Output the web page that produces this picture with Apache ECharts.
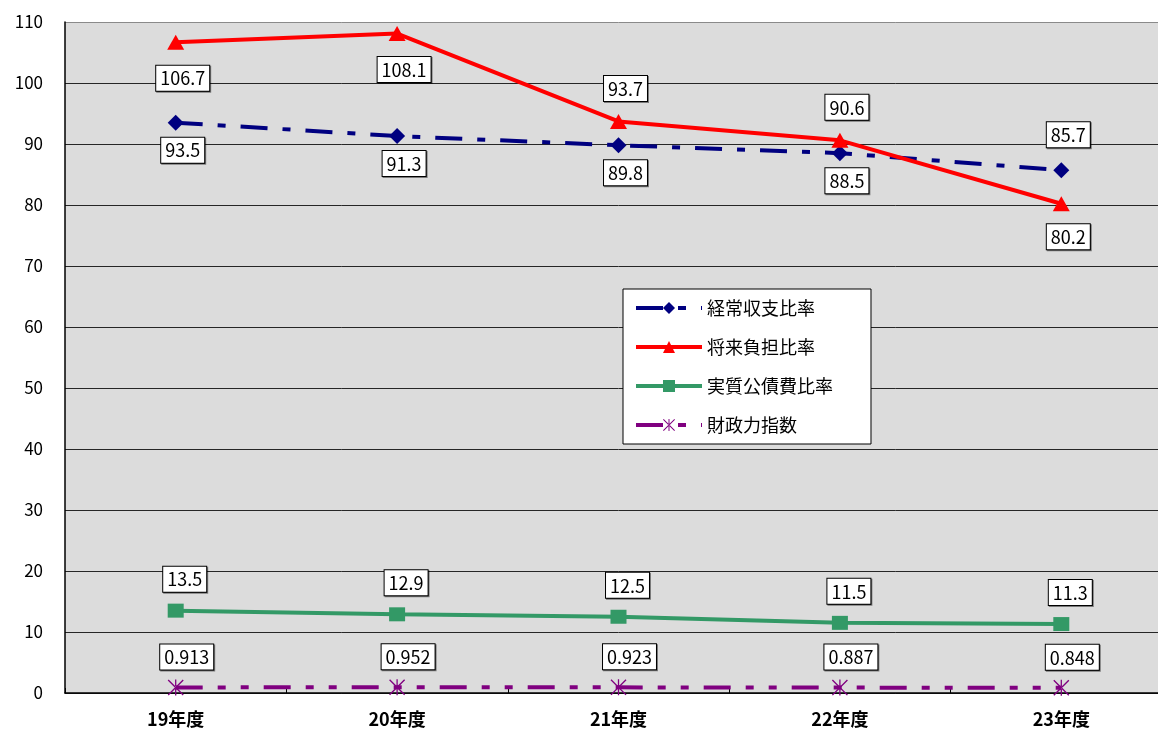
<!DOCTYPE html>
<html lang="ja">
<head>
  <meta charset="UTF-8">
  <title>財政指標の推移</title>
  <style>
    body {
      margin: 0;
      background-color: #fff;
      overflow: hidden;
    }
    /* 右端はウィンドウ外まで続く */
    #chart {
      width: 1172px;
      height: 729px;
    }
  </style>
  <script src="https://cdn.jsdelivr.net/npm/echarts@6/dist/echarts.min.js"></script>
</head>
<body>
  <div id="chart"></div>
  <script>
    // データ
    var years = ['19年度', '20年度', '21年度', '22年度', '23年度'];
    var keijo = [93.5, 91.3, 89.8, 88.5, 85.7];       // 経常収支比率
    var shorai = [106.7, 108.1, 93.7, 90.6, 80.2];    // 将来負担比率
    var kosai = [13.5, 12.9, 12.5, 11.5, 11.3];       // 実質公債費比率
    var zaisei = [0.913, 0.952, 0.923, 0.887, 0.848]; // 財政力指数
    var yTicks = [0, 10, 20, 30, 40, 50, 60, 70, 80, 90, 100, 110];

    var FONT = '"Noto Sans CJK JP", "Noto Sans", sans-serif';

    // 米印マーカー（X＋縦線）
    var asterisk = 'path://M9.2,0L10.8,0L10.8,20L9.2,20Z' +
      'M1.2,0L0,1.2L18.8,20L20,18.8Z' +
      'M18.8,0L20,1.2L1.2,20L0,18.8Z';

    function boxLabel(extra) {
      var base = {
        show: true,
        color: '#000',
        fontFamily: FONT,
        fontSize: 18,
        backgroundColor: '#fff',
        borderColor: '#000',
        borderWidth: 1,
        padding: [4, 4, 3, 4],
        shadowColor: 'rgba(0,0,0,0.45)',
        shadowOffsetX: 1,
        shadowOffsetY: 1,
        shadowBlur: 0
      };
      for (var k in extra) base[k] = extra[k];
      return base;
    }

    // ラベル位置（データ点ごと）
    function withLabels(values, places, offsetX) {
      return values.map(function (v, i) {
        var p = places[i];
        return { value: v, label: boxLabel({ position: p[0], distance: p[1], offset: [offsetX, 0] }) };
      });
    }

    var chart = echarts.init(document.getElementById('chart'));
    var gridColors = yTicks.map(function (t, i) { return i === yTicks.length - 1 ? '#8a8a8a' : '#262626'; });

    chart.setOption({
      animation: false,
      backgroundColor: '#fff',
      grid: {
        left: 65,
        top: 22,
        right: 0,
        height: 671,
        show: true,
        backgroundColor: '#dcdcdc',
        borderWidth: 0
      },
      legend: {
        orient: 'vertical',
        left: 623,
        top: 289,
        padding: [10, 38, 10, 11],
        itemWidth: 66,
        itemHeight: 15,
        itemGap: 21,
        backgroundColor: '#fff',
        borderColor: '#000',
        borderWidth: 1,
        lineStyle: { width: 4 },
        textStyle: {
          color: '#000',
          fontFamily: FONT,
          fontSize: 18,
          lineHeight: 18
        },
        data: ['経常収支比率', '将来負担比率', '実質公債費比率', '財政力指数']
      },
      xAxis: {
        type: 'category',
        data: years,
        boundaryGap: true,
        axisLine: { lineStyle: { color: '#000', width: 1.5 } },
        axisTick: { show: true, inside: true, length: 5, interval: 0, lineStyle: { color: '#000' } },
        axisLabel: {
          color: '#000',
          fontFamily: FONT,
          fontSize: 18,
          fontWeight: 'bold',
          margin: 17
        },
        splitLine: { show: false }
      },
      yAxis: {
        type: 'value',
        min: yTicks[0],
        max: yTicks[yTicks.length - 1],
        interval: 10,
        axisLine: { show: true, lineStyle: { color: '#000', width: 1.5 } },
        axisTick: { show: false },
        axisLabel: {
          color: '#000',
          fontFamily: FONT,
          fontSize: 17,
          margin: 22
        },
        splitLine: { show: true, lineStyle: { color: gridColors, width: 1 } }
      },
      series: [
        {
          name: '経常収支比率',
          type: 'line',
          symbol: 'diamond',
          symbolSize: [16, 16],
          itemStyle: { color: '#000080' },
          lineStyle: { color: '#000080', width: 4, type: [27, 15, 8, 15] },
          data: withLabels(keijo, [['bottom', 7], ['bottom', 7], ['bottom', 7], ['bottom', 7], ['top', 15]], 7)
        },
        {
          name: '将来負担比率',
          type: 'line',
          symbol: 'triangle',
          symbolSize: [17, 15],
          itemStyle: { color: '#ff0000' },
          lineStyle: { color: '#ff0000', width: 4 },
          data: withLabels(shorai, [['bottom', 16], ['bottom', 16], ['top', 13], ['top', 13], ['bottom', 13]], 7)
        },
        {
          name: '実質公債費比率',
          type: 'line',
          symbol: 'rect',
          symbolSize: [16, 14],
          itemStyle: { color: '#339966' },
          lineStyle: { color: '#339966', width: 4 },
          data: withLabels(kosai, [['top', 12], ['top', 12], ['top', 12], ['top', 12], ['top', 12]], 9)
        },
        {
          name: '財政力指数',
          type: 'line',
          symbol: asterisk,
          symbolSize: 16,
          itemStyle: { color: '#800080' },
          lineStyle: { color: '#800080', width: 4, type: [27, 15, 8, 15, 8, 15] },
          data: withLabels(zaisei, [['top', 10], ['top', 10], ['top', 10], ['top', 10], ['top', 10]], 11)
        }
      ]
    });

    window.addEventListener('resize', function () {
      chart.resize();
    });
  </script>
</body>
</html>
